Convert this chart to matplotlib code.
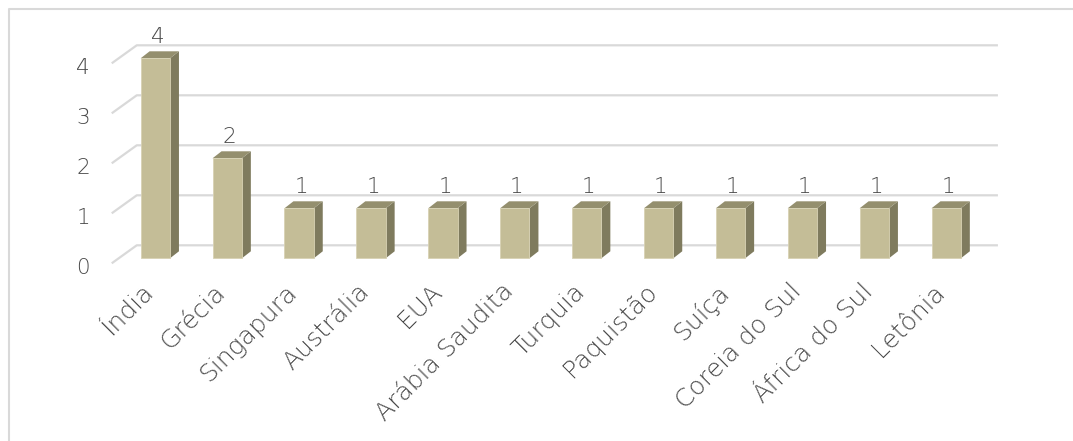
import matplotlib
matplotlib.use("Agg")
import matplotlib.pyplot as plt
from matplotlib.patches import Polygon, Rectangle
from matplotlib.lines import Line2D

countries = ["Índia", "Grécia", "Singapura", "Austrália", "EUA", "Arábia Saudita",
             "Turquia", "Paquistão", "Suíça", "Coreia do Sul", "África do Sul", "Letônia"]
counts = [4, 2, 1, 1, 1, 1, 1, 1, 1, 1, 1, 1]
y_ticks = [0, 1, 2, 3, 4]

FRONT = "#C4BD97"
SIDE = "#7F7B5E"
TOP = "#948F6E"
GRID = "#D9D9D9"
TEXT = "#4A4A4A"
FONT = ["DejaVu Sans"]

# oblique 3D geometry, in data units (1 category, 1 count)
half_w = 0.204
depth_dx, depth_dy = 0.125, 0.14
floor_front_x, floor_back_x = -0.606, -0.258
floor_front_dy, floor_back_dy = -0.10, 0.26
grid_end_x = 11.72

fig = plt.figure(figsize=(10.73, 4.41), dpi=100)
ax = fig.add_axes([0, 0, 1, 1])
ax.set_xlim(-2.160, 12.764)
ax.set_ylim(-3.654, 5.166)
ax.axis("off")

# back wall grid with the diagonal floor edge on the left
for v in y_ticks:
    ax.plot([floor_front_x, floor_back_x, grid_end_x],
            [v + floor_front_dy, v + floor_back_dy, v + floor_back_dy],
            color=GRID, lw=1.6, solid_capstyle="butt", zorder=1)
    ax.text(floor_front_x - 0.3, v + floor_front_dy - 0.10, str(v), ha="right",
            va="center", fontsize=15.5, color=TEXT, family=FONT, weight="light")

for i, (name, v) in enumerate(zip(countries, counts)):
    x0, x1 = i - half_w, i + half_w
    ax.add_patch(Polygon([(x1, 0), (x1 + depth_dx, depth_dy),
                          (x1 + depth_dx, v + depth_dy), (x1, v)],
                         closed=True, facecolor=SIDE, edgecolor="none", zorder=3))
    ax.add_patch(Polygon([(x0, v), (x1, v), (x1 + depth_dx, v + depth_dy),
                          (x0 + depth_dx, v + depth_dy)],
                         closed=True, facecolor=TOP, edgecolor="none", zorder=3))
    ax.add_patch(Rectangle((x0, 0), 2 * half_w, v, facecolor=FRONT,
                           edgecolor="#D8D2B4", lw=0.6, zorder=4))
    ax.text(i + 0.03, v + 0.43, str(v), ha="center", va="center",
            fontsize=15.5, color=TEXT, family=FONT, weight="light")
    ax.text(i - 0.19, -0.42, name, rotation=45, rotation_mode="anchor",
            ha="right", va="top", fontsize=18, color=TEXT, family=FONT,
            weight="light")

# chart area border (left and top edges only visible)
bx = 8.5 / 1073
by = 1 - 8.5 / 441
fig.add_artist(Line2D([bx, bx, 1], [0, by, by], transform=fig.transFigure,
                      color=GRID, lw=1.5))

fig.savefig("out.png", dpi=100)
